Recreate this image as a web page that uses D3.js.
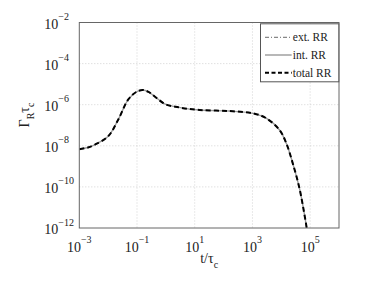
<!DOCTYPE html>
<html>
<head>
<meta charset="utf-8">
<script src="https://cdn.jsdelivr.net/npm/d3@7"></script>
<style>
  body { margin: 0; background: #fff; }
  text { font-family: "Liberation Serif", "Times New Roman", Times, "DejaVu Serif", serif; }
</style>
</head>
<body>
<div id="chart"></div>
<script>
// values
const tValues   = [1e-3, 2e-3, 3.5e-3, 1e-2, 2.2e-2, 5e-2, 9.8e-2, 0.16, 0.25, 0.42, 0.95, 3.2, 15, 160, 1050, 3000, 8700, 15000, 25000, 44000, 76000];
const totalRate = [6.8e-9, 8.3e-9, 1.15e-8, 2.9e-8, 1.8e-7, 1.8e-6, 4.3e-6, 5.2e-6, 4.2e-6, 2.45e-6, 1.07e-6, 7.2e-7, 5.5e-7, 4.9e-7, 3.8e-7, 2.2e-7, 5.9e-8, 1.3e-8, 1.4e-9, 7e-11, 1e-12];
const intRate   = totalRate;   // overlaps the total curve
const xTickExp  = [-3, -1, 1, 3, 5];
const yTickExp  = [-2, -4, -6, -8, -10, -12];
const legendItems = ["ext. RR", "int. RR", "total RR"];

const W = 374, H = 282;
const serif = "'Liberation Serif', 'Times New Roman', Times, serif";
const margin = { top: 22.5, right: 35, bottom: 54, left: 79.3 };
const width = W - margin.left - margin.right,
      height = H - margin.top - margin.bottom;

const svg = d3.select("#chart").append("svg")
  .attr("width", W).attr("height", H)
  .attr("font-family", serif);

const g = svg.append("g")
  .attr("transform", `translate(${margin.left},${margin.top})`);

const x = d3.scaleLog().domain([1e-3, 1e6]).range([0, width]);
const y = d3.scaleLog().domain([1e-12, 1e-2]).range([height, 0]);

// grid
g.append("g")
  .selectAll("line")
  .data(xTickExp.slice(1))
  .join("line")
  .attr("x1", d => x(Math.pow(10, d))).attr("x2", d => x(Math.pow(10, d)))
  .attr("y1", 0).attr("y2", height)
  .attr("stroke", "#c8c8c8").attr("stroke-width", 0.8)
  .attr("stroke-dasharray", "1,2");

g.append("g")
  .selectAll("line")
  .data(yTickExp.slice(1, -1))
  .join("line")
  .attr("y1", d => y(Math.pow(10, d))).attr("y2", d => y(Math.pow(10, d)))
  .attr("x1", 0).attr("x2", width)
  .attr("stroke", "#c8c8c8").attr("stroke-width", 0.8)
  .attr("stroke-dasharray", "1,2");

// curves
g.append("clipPath").attr("id", "clip")
  .append("rect").attr("width", width).attr("height", height);

const line = d3.line()
  .x(d => x(d[0]))
  .y(d => y(d[1]))
  .curve(d3.curveCatmullRom.alpha(0.5));

const curves = g.append("g").attr("clip-path", "url(#clip)");

curves.append("path")
  .attr("d", line(tValues.map((t, i) => [t, intRate[i]])))
  .attr("fill", "none").attr("stroke", "#9a9a9a").attr("stroke-width", 1.4);

curves.append("path")
  .attr("d", line(tValues.map((t, i) => [t, totalRate[i]])))
  .attr("fill", "none").attr("stroke", "#000").attr("stroke-width", 2)
  .attr("stroke-dasharray", "5,3");

// frame
g.append("rect")
  .attr("width", width).attr("height", height)
  .attr("fill", "none").attr("stroke", "#666").attr("stroke-width", 1);

// x tick labels
const xt = g.append("g").selectAll("text")
  .data(xTickExp)
  .join("text")
  .attr("x", d => x(Math.pow(10, d)))
  .attr("y", height + 23.5)
  .attr("text-anchor", "middle")
  .attr("fill", "#222")
  .attr("font-family", serif)
  .style("font-size", "14px");
xt.append("tspan").text("10");
xt.append("tspan").attr("dy", -9).style("font-size", "10px")
  .text(d => d < 0 ? "\u2212" + (-d) : d);

// y tick labels
const yt = g.append("g").selectAll("text")
  .data(yTickExp)
  .join("text")
  .attr("x", -35)
  .attr("y", d => y(Math.pow(10, d)) + 6)
  .attr("fill", "#222")
  .attr("font-family", serif)
  .style("font-size", "14px");
yt.append("tspan").text("10");
yt.append("tspan").attr("dy", -8.5).style("font-size", "10px")
  .text(d => "\u2212" + (-d));

// axis titles
const xl = svg.append("text")
  .attr("x", margin.left + width / 2)
  .attr("y", 263)
  .attr("text-anchor", "middle")
  .attr("fill", "#222")
  .attr("font-family", serif)
  .style("font-size", "14px");
xl.append("tspan").text("t/\u03c4");
xl.append("tspan").attr("dy", 5).style("font-size", "10px").text("c");

const yl = svg.append("text")
  .attr("transform", "translate(28.5,115) rotate(-90)")
  .attr("text-anchor", "middle")
  .attr("fill", "#222")
  .attr("font-family", serif)
  .style("font-size", "14px");
yl.append("tspan").text("\u0393");
yl.append("tspan").attr("dy", 5).style("font-size", "10px").text("R");
yl.append("tspan").attr("dy", -5).text("\u03c4");
yl.append("tspan").attr("dy", 5).style("font-size", "10px").text("c");

// legend
const legend = svg.append("g").attr("transform", "translate(260.5,23.8)");
legend.append("rect")
  .attr("width", 78.3).attr("height", 58)
  .attr("fill", "#fff").attr("stroke", "#555").attr("stroke-width", 1);

const styles = [
  { stroke: "#444", width: 0.8, dash: "4,2,1,2" },
  { stroke: "#9a9a9a", width: 1.4, dash: null },
  { stroke: "#000", width: 2, dash: "4,2.5" }
];

const item = legend.selectAll("g.item")
  .data(legendItems)
  .join("g")
  .attr("class", "item")
  .attr("transform", (d, i) => `translate(0,${13.5 + i * 17.7})`);

item.append("line")
  .attr("x1", 4.5).attr("x2", 31.2)
  .attr("stroke", (d, i) => styles[i].stroke)
  .attr("stroke-width", (d, i) => styles[i].width)
  .attr("stroke-dasharray", (d, i) => styles[i].dash);

item.append("text")
  .attr("x", 32.3).attr("y", 4)
  .attr("fill", "#222")
  .attr("font-family", serif)
  .style("font-size", "11.5px")
  .text(d => d);
</script>
</body>
</html>
